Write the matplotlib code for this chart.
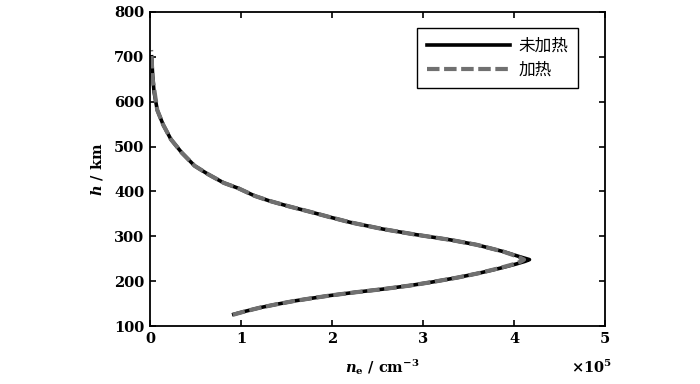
"""
Electron density profile before and after heating
"""
import numpy as np
import matplotlib
matplotlib.use('Agg')
import matplotlib.pyplot as plt

plt.rcParams['mathtext.fontset'] = 'custom'
plt.rcParams['mathtext.rm'] = 'DejaVu Serif:bold'
plt.rcParams['mathtext.it'] = 'DejaVu Serif:italic:bold'
plt.rcParams['mathtext.bf'] = 'DejaVu Serif:bold'

# altitude (km) and electron density (1e5 cm^-3)
h_unheated = [126, 133, 141, 148, 156, 162, 168, 175, 182, 190, 198, 208, 218, 229,
              238, 244, 248, 254, 266, 281, 292, 304, 316, 331, 343, 355, 367, 379,
              390, 407, 419, 438, 457, 486, 516, 548, 581, 622, 656, 700]
ne_unheated = [0.92, 1.05, 1.21, 1.38, 1.59, 1.78, 1.98, 2.25, 2.55, 2.85, 3.10, 3.38,
               3.62, 3.85, 4.02, 4.12, 4.17, 4.07, 3.88, 3.59, 3.30, 2.91, 2.56, 2.20,
               1.97, 1.75, 1.52, 1.31, 1.15, 0.97, 0.81, 0.64, 0.49, 0.35, 0.23, 0.146,
               0.08, 0.044, 0.03, 0.018]

h_heated = [125, 133, 141, 148, 156, 162, 168, 175, 182, 190, 198, 208, 218, 229,
            238, 244, 248, 254, 266, 281, 292, 304, 316, 331, 343, 355, 367, 379,
            390, 407, 419, 438, 457, 486, 516, 548, 581, 622, 656, 690, 715]
ne_heated = [0.91, 1.05, 1.21, 1.38, 1.59, 1.78, 1.98, 2.25, 2.55, 2.85, 3.10, 3.38,
             3.62, 3.84, 4.00, 4.08, 4.11, 4.05, 3.88, 3.59, 3.30, 2.91, 2.56, 2.20,
             1.97, 1.75, 1.52, 1.31, 1.15, 0.97, 0.81, 0.64, 0.49, 0.35, 0.23, 0.146,
             0.08, 0.05, 0.025, 0.02, 0.012]

labels = ['未加热', '加热']
scale = 1e5

serif = ['DejaVu Serif']
fontsize = 10.5

fig = plt.figure(figsize=(7, 3.84), dpi=100)
ax = fig.add_axes([0.2143, 0.151, 0.65, 0.818])

ax.plot(np.array(ne_unheated) * scale, h_unheated, color='black', linewidth=2.6, label=labels[0])
ax.plot(np.array(ne_heated) * scale, h_heated, color='#707070', linewidth=3, dashes=(3, 1.1),
        label=labels[1])

ax.set_xlim(0, 5 * scale)
ax.set_ylim(100, 800)
ax.set_xticks(np.arange(0, 6) * scale)
ax.set_xticklabels([str(i) for i in range(6)])
ax.set_yticks(np.arange(100, 900, 100))
ax.tick_params(direction='in', top=True, right=True, length=4, width=1.2, labelsize=fontsize,
               pad=4)
for lbl in ax.get_xticklabels() + ax.get_yticklabels():
    lbl.set_family(serif)
    lbl.set_fontweight('bold')
for sp in ax.spines.values():
    sp.set_linewidth(1.3)

ax.set_xlabel(r'$\mathit{n}_{\mathrm{e}}$ / cm$^{-3}$', fontsize=fontsize, family=serif,
              fontweight='bold', va='center')
ax.xaxis.set_label_coords(0.51, -0.13)
ax.set_ylabel(r'$\mathit{h}$ / km', fontsize=fontsize, family=serif, fontweight='bold')
ax.yaxis.set_label_coords(-0.10, 0.5)
ax.text(1.015, -0.13, r'×10$^5$', transform=ax.transAxes, ha='right', va='center',
        fontsize=fontsize, family=serif, fontweight='bold')

leg = ax.legend(loc='upper right', bbox_to_anchor=(0.9407, 0.949), borderaxespad=0,
                prop={'family': 'Noto Sans CJK SC', 'size': 12},
                handlelength=5, fancybox=False, edgecolor='black', framealpha=1,
                labelspacing=0.45, borderpad=0.57, handletextpad=0.5)
leg.get_frame().set_linewidth(1.0)

plt.savefig('out.png', dpi=100)
